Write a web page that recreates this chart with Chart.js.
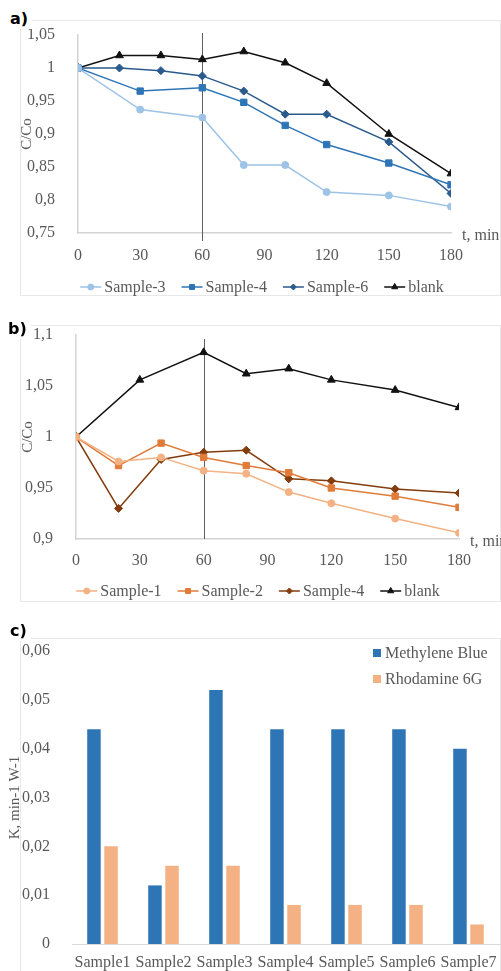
<!DOCTYPE html>
<html><head><meta charset="utf-8">
<script src="https://cdn.jsdelivr.net/npm/chart.js@4.4.1/dist/chart.umd.min.js"></script>
<style>
html,body{margin:0;padding:0;background:#fff;}
body{width:501px;height:971px;overflow:hidden;position:relative;}
.frame{position:absolute;border:1px solid #e8e8e8;box-sizing:border-box;}
.panel{position:absolute;left:0;width:501px;}
.tag{position:absolute;background:#fff;font:bold 16px "DejaVu Sans",sans-serif;color:#000;padding:0 4px;line-height:20px;}
</style></head><body>
<div class="frame" style="left:20px;top:20px;width:481px;height:276px"></div>
<div class="frame" style="left:20px;top:325px;width:481px;height:277px"></div>
<div class="frame" style="left:20px;top:638px;width:481px;height:400px"></div>
<div class="panel" style="top:0;height:300px"><canvas id="ca"></canvas></div>
<div class="panel" style="top:300px;height:310px"><canvas id="cb"></canvas></div>
<div class="panel" style="top:610px;height:361px"><canvas id="cc"></canvas></div>
<div class="tag" style="left:6px;top:9px">a)</div>
<div class="tag" style="left:4px;top:319px">b)</div>
<div class="tag" style="left:6px;top:621px">c)</div>
<script>
// ---------- Panel a data ----------
const xTicks = [0, 30, 60, 90, 120, 150, 180];
const yTicksA = [0.75, 0.8, 0.85, 0.9, 0.95, 1, 1.05];
const tA3 = [0, 30, 60, 80, 100, 120, 150, 180];
const sample3A = [1, 0.937, 0.925, 0.853, 0.853, 0.812, 0.807, 0.79];
const tA4 = [0, 30, 60, 80, 100, 120, 150, 180];
const sample4A = [1, 0.965, 0.970, 0.948, 0.913, 0.884, 0.856, 0.823];
const tA6 = [0, 20, 40, 60, 80, 100, 120, 150, 180];
const sample6A = [1, 1.0, 0.996, 0.988, 0.965, 0.930, 0.930, 0.888, 0.810];
const tAB = [0, 20, 40, 60, 80, 100, 120, 150, 180];
const blankA = [1, 1.019, 1.019, 1.013, 1.025, 1.008, 0.977, 0.900, 0.840];

// ---------- Panel b data ----------
const yTicksB = [0.9, 0.95, 1, 1.05, 1.1];
const tB1 = [0, 20, 40, 60, 80, 100, 120, 150, 180];
const sample1B = [1, 0.976, 0.980, 0.967, 0.964, 0.946, 0.935, 0.920, 0.906];
const tB2 = [0, 20, 40, 60, 80, 100, 120, 150, 180];
const sample2B = [1, 0.972, 0.994, 0.980, 0.972, 0.965, 0.950, 0.942, 0.931];
const tB4 = [0, 20, 40, 60, 80, 100, 120, 150, 180];
const sample4B = [1, 0.930, 0.978, 0.985, 0.987, 0.959, 0.957, 0.949, 0.945];
const tBB = [0, 30, 60, 80, 100, 120, 150, 180];
const blankB = [1, 1.056, 1.083, 1.062, 1.067, 1.056, 1.046, 1.029];

// ---------- Panel c data ----------
const samplesC = ['Sample1', 'Sample2', 'Sample3', 'Sample4', 'Sample5', 'Sample6', 'Sample7'];
const methyleneBlue = [0.044, 0.012, 0.052, 0.044, 0.044, 0.044, 0.040];
const rhodamine6G = [0.020, 0.016, 0.016, 0.008, 0.008, 0.008, 0.004];
const yTicksC = [0, 0.01, 0.02, 0.03, 0.04, 0.05, 0.06];

const SERIF = '"Liberation Serif", "Times New Roman", serif';
const GREY = '#595959';
Chart.defaults.font.family = SERIF;
Chart.defaults.color = GREY;
const fmt = v => String(v).replace('.', ',');
const pts = (xs, ys) => xs.map((x, i) => ({x: x, y: ys[i]}));

function marker(ctx, style, r, x, y) {
  if (Chart.helpers && Chart.helpers.drawPoint) {
    Chart.helpers.drawPoint(ctx, {pointStyle: style, radius: r, rotation: 0, borderWidth: 1}, x, y);
    return;
  }
  ctx.beginPath(); ctx.arc(x, y, r, 0, Math.PI * 2); ctx.fill();
}

const lineLegend = {
  id: 'lineLegend',
  afterDraw(chart, args, o) {
    const ctx = chart.ctx;
    ctx.save();
    ctx.font = '16px ' + SERIF;
    ctx.textBaseline = 'middle'; ctx.textAlign = 'left';
    const symW = 21, gap1 = 3, gap2 = 16;
    const items = chart.data.datasets.map(ds => ({label: ds.label, color: ds.borderColor, style: ds.pointStyle, r: ds.legendRadius}));
    let total = 0;
    items.forEach((it, i) => { it.w = symW + gap1 + ctx.measureText(it.label).width; total += it.w + (i ? gap2 : 0); });
    let x = o.cx - total / 2;
    const y = o.y;
    items.forEach(it => {
      ctx.strokeStyle = it.color; ctx.fillStyle = it.color; ctx.lineWidth = 1.5;
      ctx.beginPath(); ctx.moveTo(x, y); ctx.lineTo(x + symW, y); ctx.stroke();
      ctx.lineWidth = 1;
      marker(ctx, it.style, it.r, x + symW / 2, y);
      ctx.fillStyle = GREY;
      ctx.fillText(it.label, x + symW + gap1, y + 1);
      x += it.w + gap2;
    });
    ctx.restore();
  }
};

const extras = {
  id: 'extras',
  beforeDatasetsDraw(chart, args, o) {
    const ctx = chart.ctx, ca = chart.chartArea, xs = chart.scales.x;
    const px = xs.getPixelForValue(o.vline);
    ctx.save();
    ctx.strokeStyle = '#5f5f5f'; ctx.lineWidth = 1;
    ctx.beginPath(); ctx.moveTo(Math.round(px) + 0.5, ca.top + o.vTop); ctx.lineTo(Math.round(px) + 0.5, ca.bottom + o.vBottom); ctx.stroke();
    ctx.restore();
  },
  afterDraw(chart, args, o) {
    const ctx = chart.ctx, ca = chart.chartArea;
    ctx.save();
    ctx.font = '16px ' + SERIF; ctx.fillStyle = GREY;
    ctx.textAlign = 'left'; ctx.textBaseline = 'middle';
    ctx.fillText(o.xTitle, ca.right + o.dx, ca.bottom + o.dy);
    ctx.restore();
  }
};

function ds(label, xs, ys, color, style, r, lr) {
  return {label: label, data: pts(xs, ys), borderColor: color, backgroundColor: color,
    borderWidth: 1.5, pointStyle: style, pointRadius: r, pointHoverRadius: r,
    pointBackgroundColor: color, pointBorderColor: color, pointBorderWidth: 1,
    legendRadius: lr, tension: 0};
}

function lineOptions(yTicks, yMin, yMax, pad, yWidth, yTitlePad, legendY, legendCx, vTop, vBottom, xPad) {
  return {
    responsive: true, maintainAspectRatio: false, animation: false,
    layout: {padding: pad},
    plugins: {
      legend: {display: false}, tooltip: {enabled: false},
      lineLegend: {cx: legendCx, y: legendY},
      extras: {vline: 60, xTitle: 't, min', dx: 11, dy: 3, vTop: vTop, vBottom: vBottom}
    },
    scales: {
      x: {
        type: 'linear', min: 0, max: 180,
        afterBuildTicks: s => { s.ticks = xTicks.map(v => ({value: v})); },
        afterFit: s => { s.height = 30; },
        grid: {display: false},
        border: {display: true, color: '#d4d4d4', width: 1.5},
        ticks: {padding: xPad, color: GREY, font: {family: SERIF, size: 16}, maxRotation: 0, callback: v => fmt(v)}
      },
      y: {
        min: yMin, max: yMax,
        afterBuildTicks: s => { s.ticks = yTicks.map(v => ({value: v})); },
        afterFit: s => { s.width = yWidth; },
        grid: {display: false},
        border: {display: true, color: '#d4d4d4', width: 1.5},
        ticks: {padding: 15, color: GREY, font: {family: SERIF, size: 16}, callback: v => fmt(v)},
        title: {display: true, text: 'C/Co', color: GREY, font: {family: SERIF, size: 15}, padding: {top: yTitlePad, bottom: 0}}
      }
    }
  };
}

new Chart(document.getElementById('ca'), {
  type: 'line',
  data: {datasets: [
    ds('Sample-3', tA3, sample3A, '#9dc3e6', 'circle', 3.5, 3),
    ds('Sample-4', tA4, sample4A, '#2e75b6', 'rect', 4.5, 3.5),
    ds('Sample-6', tA6, sample6A, '#2b5b8c', 'rectRot', 4, 3),
    ds('blank', tAB, blankA, '#111111', 'triangle', 4.5, 3.5)
  ]},
  options: lineOptions(yTicksA, 0.75, 1.05, {top: 35, right: 50, bottom: 37, left: 0}, 78, 18, 287, 262, -2, 8, 5),
  plugins: [lineLegend, extras]
});

new Chart(document.getElementById('cb'), {
  type: 'line',
  data: {datasets: [
    ds('Sample-1', tB1, sample1B, '#f4b183', 'circle', 3.5, 3),
    ds('Sample-2', tB2, sample2B, '#e07b39', 'rect', 4.5, 3.5),
    ds('Sample-4', tB4, sample4B, '#843c0c', 'rectRot', 4, 3),
    ds('blank', tBB, blankB, '#111111', 'triangle', 4.5, 3.5)
  ]},
  options: lineOptions(yTicksB, 0.9, 1.1, {top: 35, right: 42, bottom: 41, left: 0}, 76, 19, 291, 258, 4, 0, 4),
  plugins: [lineLegend, extras]
});

const barLegend = {
  id: 'barLegend',
  afterDraw(chart, args, o) {
    const ctx = chart.ctx;
    ctx.save();
    ctx.font = '16px ' + SERIF; ctx.textAlign = 'left'; ctx.textBaseline = 'middle';
    chart.data.datasets.forEach((d, i) => {
      const y = o.y + i * o.dy;
      ctx.fillStyle = d.backgroundColor;
      ctx.fillRect(o.x, y - 4, 8, 8);
      ctx.fillStyle = GREY;
      ctx.fillText(d.label, o.x + 12, y + 1);
    });
    ctx.restore();
  }
};

new Chart(document.getElementById('cc'), {
  type: 'bar',
  data: {
    labels: samplesC,
    datasets: [
      {label: 'Methylene Blue', data: methyleneBlue, backgroundColor: '#2e75b6', borderWidth: 0, categoryPercentage: 0.56, barPercentage: 0.79},
      {label: 'Rhodamine 6G', data: rhodamine6G, backgroundColor: '#f4b183', borderWidth: 0, categoryPercentage: 0.56, barPercentage: 0.79}
    ]
  },
  options: {
    responsive: true, maintainAspectRatio: false, animation: false,
    layout: {padding: {top: 41, right: 2, bottom: 0, left: 0}},
    plugins: {legend: {display: false}, tooltip: {enabled: false}, barLegend: {x: 373, y: 43, dy: 26}},
    scales: {
      x: {
        afterFit: s => { s.height = 27; },
        grid: {display: false},
        border: {display: true, color: '#d9d9d9', width: 1},
        ticks: {padding: 1, color: GREY, font: {family: SERIF, size: 16}, maxRotation: 0, autoSkip: false}
      },
      y: {
        min: 0, max: 0.06,
        afterBuildTicks: s => { s.ticks = yTicksC.map(v => ({value: v})); },
        afterFit: s => { s.width = 72; },
        grid: {display: false},
        border: {display: false},
        ticks: {padding: 14, color: GREY, font: {family: SERIF, size: 16}, callback: v => fmt(v)},
        title: {display: true, text: 'K, min-1 W-1', color: GREY, font: {family: SERIF, size: 15}, padding: {top: 6, bottom: 0}}
      }
    }
  },
  plugins: [barLegend]
});
</script>
</body></html>
